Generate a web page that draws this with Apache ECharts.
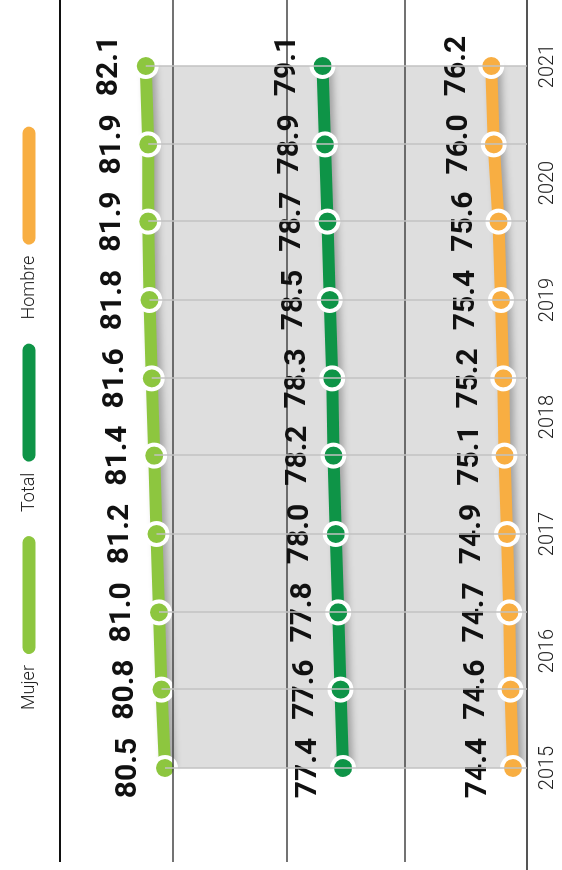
<!DOCTYPE html>
<html>
<head>
<meta charset="utf-8">
<title>Esperanza de vida</title>
<script src="https://cdn.jsdelivr.net/npm/echarts@6/dist/echarts.min.js"></script>
<style>
  html, body { margin: 0; padding: 0; background: #fff; overflow: hidden; }
  /* the chart is drawn lying down and turned a quarter turn */
  #main { position: absolute; left: 0; top: 870px; width: 870px; height: 562px;
          transform-origin: 0 0; transform: rotate(-90deg); }
</style>
</head>
<body>
<div id="main"></div>
<script>
// years on the axis
var years = [2015, 2016, 2017, 2018, 2019, 2020, 2021];
// where each of the 10 points sits along the years
var periods = [2015, 2015.67, 2016.33, 2017, 2017.67, 2018.33, 2019, 2019.67, 2020.33, 2021];

var mujer  = [80.5, 80.8, 81.0, 81.2, 81.4, 81.6, 81.8, 81.9, 81.9, 82.1];
var total  = [77.4, 77.6, 77.8, 78.0, 78.2, 78.3, 78.5, 78.7, 78.9, 79.1];
var hombre = [74.4, 74.6, 74.7, 74.9, 75.1, 75.2, 75.4, 75.6, 76.0, 76.2];

var names  = ['Mujer', 'Total', 'Hombre'];
var colors = ['#8dc63f', '#0e9447', '#f8ae42'];
var labelGap = [8, 7, 6];

// each line has its own hidden scale (same step, shifted)
var ranges = [[50.33, 94.25], [62.07, 105.98], [73.23, 117.15]];

var pill = 'path://M7.5,0 H112.5 A7.5,7.5 0 0 1 112.5,15 H7.5 A7.5,7.5 0 0 1 7.5,0 Z';

function pairs(vals) {
    return vals.map(function (v, i) { return [periods[i], v]; });
}

function makeSeries(idx, vals) {
    var s = {
        name: names[idx],
        type: 'line',
        xAxisIndex: 0,
        yAxisIndex: idx,
        data: pairs(vals),
        z: idx === 0 ? 1 : 3,
        symbol: 'circle',
        symbolSize: 22,
        showAllSymbol: true,
        lineStyle: {
            color: colors[idx], width: 12,
            shadowColor: 'rgba(0,0,0,0.28)', shadowBlur: 7, shadowOffsetY: 4
        },
        itemStyle: { color: colors[idx], borderColor: '#fff', borderWidth: 4 },
        label: {
            show: true, position: 'top', distance: labelGap[idx],
            fontFamily: 'Roboto', fontSize: 30, fontWeight: 'bold', color: '#111',
            textBorderWidth: 0,
            formatter: function (p) { return p.value[1].toFixed(1); }
        },
        emphasis: { disabled: true },
        animation: false
    };
    if (idx === 0) {
        // grey band under the top line, with a thin line at every point
        s.areaStyle = { color: '#dedede', opacity: 1, origin: 'start' };
        s.markLine = {
            silent: true,
            symbol: ['none', 'none'],
            label: { show: false },
            lineStyle: { color: '#c2c2c2', width: 1.5, type: 'solid' },
            animation: false,
            data: vals.map(function (v, i) {
                return [{ coord: [periods[i], v] }, { coord: [periods[i], ranges[0][0]] }];
            })
        };
    }
    return s;
}

function hLine(y, x1, color, w) {
    return {
        type: 'line', z: 2, silent: true,
        shape: { x1: x1, y1: y, x2: 870, y2: y },
        style: { stroke: color, lineWidth: w }
    };
}

var myChart = echarts.init(document.getElementById('main'));
myChart.setOption({
    backgroundColor: '#fff',
    animation: false,
    legend: {
        data: names,
        left: 155, top: 15,
        align: 'right',
        icon: pill,
        itemWidth: 122, itemHeight: 15, itemGap: 22,
        textStyle: { fontFamily: 'Roboto', fontSize: 18, fontWeight: 300, color: '#222', padding: [0, 4, 0, 0] }
    },
    grid: { left: 102, right: 66, top: 0, bottom: 35 },
    xAxis: {
        type: 'value',
        min: years[0], max: years[years.length - 1], interval: 1,
        axisLine: { show: false },
        axisTick: { show: false },
        splitLine: { show: false },
        axisLabel: {
            fontFamily: 'Roboto', fontSize: 20, fontWeight: 300, color: '#222', margin: 11,
            formatter: function (v) { return String(v); }
        }
    },
    yAxis: ranges.map(function (r) {
        return { type: 'value', show: false, min: r[0], max: r[1], splitLine: { show: false } };
    }),
    graphic: [
        hLine(60, 8, '#111', 2),
        hLine(173, 8, '#444', 1.5),
        hLine(287, 8, '#444', 1.5),
        hLine(405, 8, '#444', 1.5),
        hLine(527, 0, '#555', 2)
    ],
    series: [makeSeries(0, mujer), makeSeries(1, total), makeSeries(2, hombre)]
});
</script>
</body>
</html>
